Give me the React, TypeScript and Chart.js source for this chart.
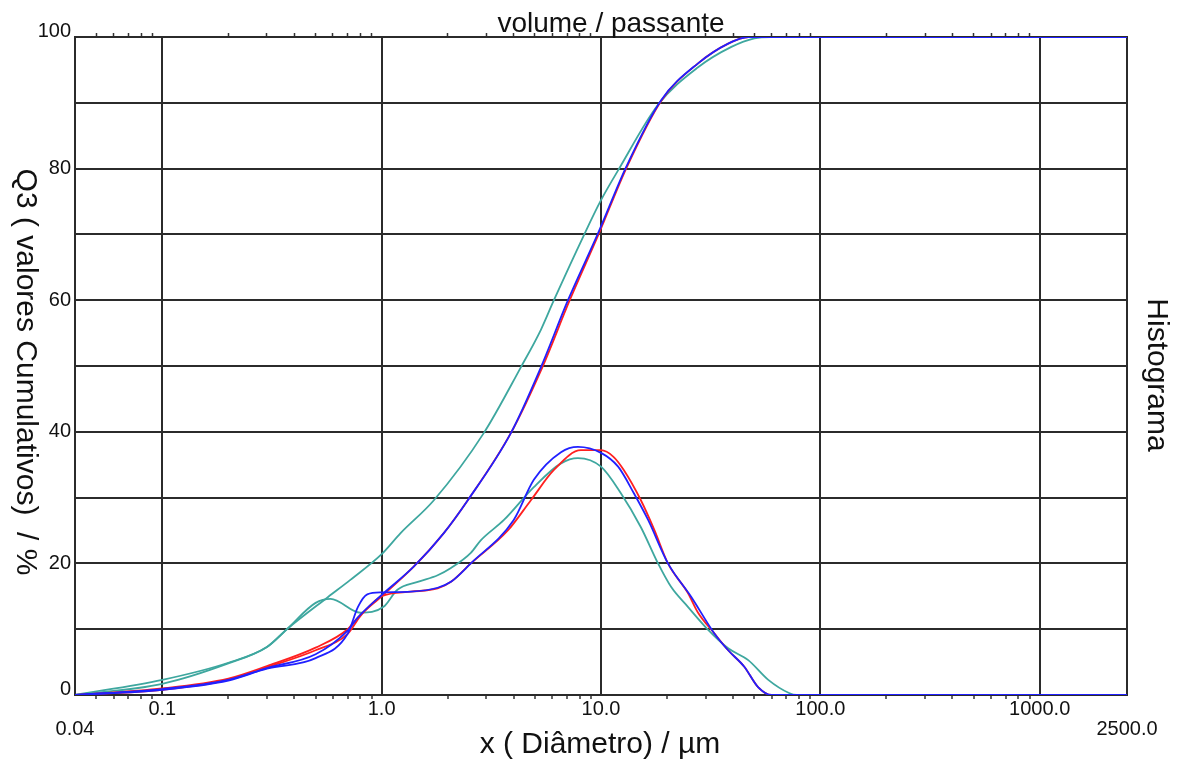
import React, { useEffect, useRef } from 'react';
import { Chart, registerables } from 'chart.js';

Chart.register(...registerables);

const FONT = '"Liberation Sans", Arial, sans-serif';
const GRID = '#2b2b2b';
const TEXT = '#111111';

// ---- axis ticks ----
const xMajorTicks = [0.1, 1, 10, 100, 1000];
const xMajorLabels = ['0.1', '1.0', '10.0', '100.0', '1000.0'];
const xEdgeTicks = [0.04, 2500];
const xEdgeLabels = ['0.04', '2500.0'];
const xMinorTicks = [
  0.05, 0.06, 0.07, 0.08, 0.09,
  0.2, 0.3, 0.4, 0.5, 0.6, 0.7, 0.8, 0.9,
  2, 3, 4, 5, 6, 7, 8, 9,
  20, 30, 40, 50, 60, 70, 80, 90,
  200, 300, 400, 500, 600, 700, 800, 900,
];
const yLabelledTicks = [0, 20, 40, 60, 80, 100];
const yRaisedTicks = [0, 100];

// ---- titles ----
const topTitle = 'volume / passante';
const leftTitle = 'Q3 ( valores Cumulativos)  / %';
const rightTitle = 'Histograma';
const bottomTitle = 'x ( Diâmetro) / µm';

// ---- cumulative curves (Q3) ----
const cumTealX = [0.04, 0.1, 0.2, 0.3, 0.37, 0.57, 0.72, 1.0, 1.22, 1.73, 2.92, 4.31, 5.32, 6.1, 8.28, 10, 12, 18.2, 27.7, 39.3, 50, 60, 2500];
const cumTealY = [0, 2.3, 4.9, 7.3, 10, 14.9, 17.5, 21.4, 24.6, 29.6, 39.8, 49.8, 55.5, 60, 69.6, 75.2, 79.8, 89.7, 95.4, 98.5, 99.8, 100, 100];

const cumRedX = [0.04, 0.1, 0.2, 0.3, 0.5, 0.7, 0.78, 1.0, 1.4, 1.92, 2.47, 3.88, 5.4, 7.2, 9.8, 13.1, 18.9, 27.7, 38, 47, 2500];
const cumRedY = [0, 1.0, 2.5, 4.4, 7.2, 10, 11.8, 15.0, 19.5, 24.6, 29.6, 39.8, 49.8, 60, 70.2, 80.2, 90.4, 96, 99, 100, 100];

const cumBlueX = [0.04, 0.1, 0.2, 0.3, 0.5, 0.7, 0.78, 1.0, 1.4, 1.92, 2.47, 3.88, 5.32, 7.07, 9.7, 13.0, 18.8, 27.7, 38, 47, 2500];
const cumBlueY = [0, 0.9, 2.3, 4.1, 6.2, 9.8, 11.8, 15.2, 19.5, 24.6, 29.6, 39.8, 49.8, 60, 70.2, 80.2, 90.4, 96, 99, 100, 100];

// ---- histogram curves ----
const histTealX = [0.04, 0.1, 0.2, 0.3, 0.37, 0.5, 0.585, 0.8, 1.02, 1.18, 1.46, 1.8, 2.07, 2.55, 2.83, 3.61, 4.94, 6.57, 7.85, 10, 12.3, 15.2, 18.2, 20.9, 24.9, 30.8, 38, 46.9, 57.9, 72, 78, 2500];
const histTealY = [0, 1.7, 4.8, 7.3, 10, 14, 14.6, 12.5, 13.4, 16, 17.2, 18.2, 19.3, 21.6, 23.5, 26.6, 31.6, 35.2, 36, 34.7, 30.7, 25.5, 20, 16.4, 13.4, 9.9, 7.1, 5.3, 2.3, 0.3, 0, 0];

const histRedX = [0.04, 0.1, 0.2, 0.3, 0.5, 0.7, 0.8, 1.0, 1.36, 1.8, 2.07, 2.55, 3.76, 4.79, 6.1, 8.1, 10, 11.4, 12.7, 15.2, 17.5, 20.2, 24.9, 27.7, 32.8, 38, 45, 52, 60, 2500];
const histRedY = [0, 0.8, 2.3, 4.2, 6.8, 9.3, 12.0, 15.0, 15.7, 16.2, 17.2, 20, 25, 29.6, 34.2, 37.2, 37.2, 36.2, 34.2, 29.6, 25.1, 20, 15.5, 12.5, 9.4, 6.8, 4.3, 1.2, 0, 0];

const histBlueX = [0.04, 0.1, 0.2, 0.3, 0.5, 0.7, 0.78, 0.86, 1.0, 1.36, 1.8, 2.07, 2.55, 4.0, 4.94, 6.57, 7.85, 10, 11.97, 14.1, 16.4, 20.2, 25.8, 32.8, 38, 45, 52, 60, 2500];
const histBlueY = [0, 0.8, 2.2, 4.0, 5.6, 9.3, 13.4, 15.3, 15.6, 15.7, 16.3, 17.2, 20, 26.6, 32.7, 36.9, 37.7, 36.8, 34.7, 30.7, 26.6, 20, 14.9, 9.4, 6.8, 4.3, 1.2, 0, 0];

const TEAL = '#3ea79f';
const RED = '#ff2020';
const BLUE = '#2020ff';

const toPts = (xs: number[], ys: number[]) => xs.map((x, i) => ({ x, y: ys[i] }));

const isMajor = (v: number) => xMajorTicks.some((m) => Math.abs(m - v) / m < 1e-6);
const isEdge = (v: number) => xEdgeTicks.some((m) => Math.abs(m - v) / m < 1e-6);

const titlesPlugin = {
  id: 'customTitles',
  afterDraw(chart: any) {
    const ctx = chart.ctx;
    ctx.save();
    ctx.fillStyle = TEXT;
    ctx.textBaseline = 'alphabetic';
    ctx.textAlign = 'center';
    // top
    ctx.font = `28px ${FONT}`;
    ctx.fillText(topTitle, 611, 32);
    // bottom
    ctx.font = `30px ${FONT}`;
    ctx.fillText(bottomTitle, 600, 753);
    // left (reads top to bottom)
    ctx.save();
    ctx.translate(17, 372);
    ctx.rotate(Math.PI / 2);
    ctx.font = `30px ${FONT}`;
    ctx.fillText(leftTitle, 0, 0);
    ctx.restore();
    // right
    ctx.save();
    ctx.translate(1148, 375);
    ctx.rotate(Math.PI / 2);
    ctx.font = `30px ${FONT}`;
    ctx.fillText(rightTitle, 0, 0);
    ctx.restore();
    ctx.restore();
  },
};

export default function App() {
  const ref = useRef<HTMLCanvasElement | null>(null);

  useEffect(() => {
    if (!ref.current) return;
    const allXTicks = [...xEdgeTicks, ...xMajorTicks, ...xMinorTicks].sort((a, b) => a - b);
    const topXTicks = [...xMinorTicks];

    const ds = (label: string, xs: number[], ys: number[], color: string) => ({
      label,
      data: toPts(xs, ys),
      borderColor: color,
      backgroundColor: color,
      borderWidth: 1.8,
      pointRadius: 0,
      fill: false,
      cubicInterpolationMode: 'monotone' as const,
      xAxisID: 'x',
      yAxisID: 'y',
    });

    const chart = new Chart(ref.current, {
      type: 'line',
      data: {
        datasets: [
          ds('Q3 azul', cumBlueX, cumBlueY, BLUE),
          ds('Histograma azul', histBlueX, histBlueY, BLUE),
          ds('Q3 vermelho', cumRedX, cumRedY, RED),
          ds('Histograma vermelho', histRedX, histRedY, RED),
          ds('Q3 verde', cumTealX, cumTealY, TEAL),
          ds('Histograma verde', histTealX, histTealY, TEAL),
        ],
      },
      options: {
        responsive: false,
        animation: false,
        layout: { padding: 0 },
        plugins: {
          legend: { display: false },
          tooltip: { enabled: false },
          title: { display: false },
        },
        scales: {
          x: {
            type: 'logarithmic',
            position: 'bottom',
            min: 0.04,
            max: 2500,
            afterBuildTicks: (scale: any) => {
              scale.ticks = allXTicks.map((v) => ({ value: v }));
            },
            afterFit: (scale: any) => {
              scale.height = 65;
            },
            ticks: {
              autoSkip: false,
              maxRotation: 0,
              minRotation: 0,
              padding: 0,
              color: TEXT,
              font: { family: FONT, size: 20, lineHeight: 1.02 },
              callback: (value: any) => {
                const v = Number(value);
                const mi = xMajorTicks.findIndex((m) => Math.abs(m - v) / m < 1e-6);
                if (mi >= 0) return xMajorLabels[mi];
                const ei = xEdgeTicks.findIndex((m) => Math.abs(m - v) / m < 1e-6);
                if (ei >= 0) return ['', xEdgeLabels[ei]];
                return '';
              },
            },
            grid: {
              drawTicks: true,
              tickLength: 4,
              tickWidth: 1.5,
              lineWidth: 2,
              color: (c: any) => (c.tick && isMajor(c.tick.value) ? GRID : 'rgba(0,0,0,0)'),
              tickColor: (c: any) =>
                c.tick && !isMajor(c.tick.value) && !isEdge(c.tick.value) ? '#333' : 'rgba(0,0,0,0)',
            },
            border: { display: true, color: GRID, width: 2 },
          },
          x2: {
            type: 'logarithmic',
            position: 'top',
            min: 0.04,
            max: 2500,
            afterBuildTicks: (scale: any) => {
              scale.ticks = topXTicks.map((v) => ({ value: v }));
            },
            afterFit: (scale: any) => {
              scale.height = 37;
            },
            ticks: { display: false, autoSkip: false },
            grid: {
              drawOnChartArea: false,
              drawTicks: true,
              tickLength: 4,
              tickWidth: 1.5,
              tickColor: '#333',
              color: 'rgba(0,0,0,0)',
            },
            border: { display: true, color: GRID, width: 2 },
          },
          y: {
            type: 'linear',
            position: 'left',
            min: 0,
            max: 100,
            afterFit: (scale: any) => {
              scale.width = 75;
            },
            ticks: {
              stepSize: 10,
              padding: 4,
              color: TEXT,
              font: (c: any) => ({
                family: FONT,
                size: 20,
                lineHeight: c.tick && yRaisedTicks.includes(c.tick.value) ? 0.56 : 1.2,
              }),
              callback: (value: any) => {
                const v = Number(value);
                if (yRaisedTicks.includes(v)) return [String(v), ''];
                return yLabelledTicks.includes(v) ? String(v) : '';
              },
            },
            grid: { color: GRID, lineWidth: 2, drawTicks: false },
            border: { display: true, color: GRID, width: 2 },
          },
          y2: {
            type: 'linear',
            position: 'right',
            min: 0,
            max: 100,
            afterFit: (scale: any) => {
              scale.width = 53;
            },
            ticks: { display: false },
            grid: { drawOnChartArea: false, drawTicks: false },
            border: { display: true, color: GRID, width: 2 },
          },
        },
      },
      plugins: [titlesPlugin],
    } as any);

    return () => chart.destroy();
  }, []);

  return (
    <div style={{ position: 'fixed', left: 0, top: 0, width: 1180, height: 760, background: '#fff' }}>
      <canvas ref={ref} width={1180} height={760} />
    </div>
  );
}
